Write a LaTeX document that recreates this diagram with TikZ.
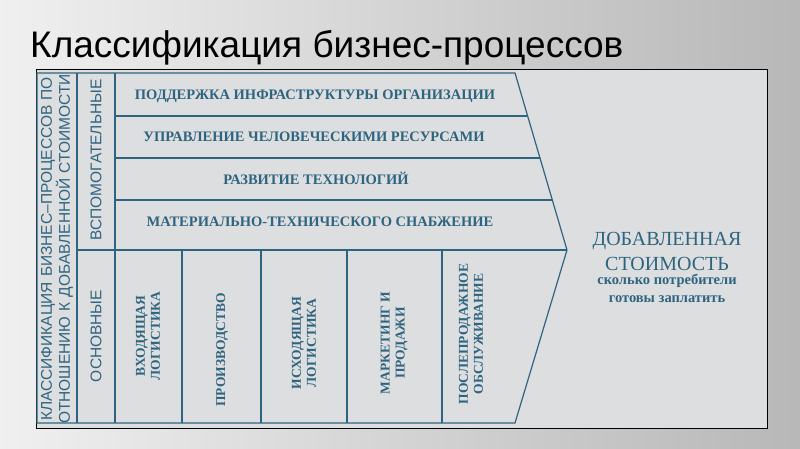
\documentclass[tikz,border=0pt]{standalone}
\usepackage{fontspec}
\setmainfont{Liberation Serif}
\setsansfont{Liberation Sans}
\usepackage{tikz}
\usetikzlibrary{positioning}
\definecolor{ink}{HTML}{2F6480}
\definecolor{panel}{HTML}{DCDEDF}
\begin{document}
\begin{tikzpicture}[x=1pt,y=-1pt,
  rowtext/.style={font=\rmfamily\bfseries\fontsize{14.5}{15}\selectfont, text=ink},
  coltext/.style={font=\rmfamily\bfseries\fontsize{13.5}{15}\selectfont, text=ink, rotate=90, align=center},
  sidetext/.style={font=\sffamily\fontsize{15.5}{16.5}\selectfont, text=ink, rotate=90, align=center},
  frame/.style={draw=ink, line width=1.2pt}]
\useasboundingbox (0,0) rectangle (800,449);
\shade[left color=black!6, right color=black!28] (0,0) rectangle (800,449);
\node[anchor=base west, font=\sffamily\fontsize{37}{40}\selectfont, inner sep=0pt] (title) at (30,58) {Классификация бизнес-процессов};
\draw[fill=panel, line width=0.8pt] (36,69) rectangle (767,428);
%outline of the chain
\draw[frame] (37,73) -- (515,73) -- (567,250) -- (515,423) -- (37,423) -- cycle;
\draw[frame] (77,73) -- (77,423)
             (115,73) -- (115,423)
             (115,116) -- (528,116)
             (115,158) -- (540,158)
             (115,200) -- (552,200)
             (77,250) -- (567,250);
\foreach \x in {182,261,347,442}
  \draw[frame] (\x,250) -- (\x,423);
%support rows
\node[rowtext] (infra) at (315,96) {ПОДДЕРЖКА ИНФРАСТРУКТУРЫ ОРГАНИЗАЦИИ};
\node[rowtext] (hr) at (314,137) {УПРАВЛЕНИЕ ЧЕЛОВЕЧЕСКИМИ РЕСУРСАМИ};
\node[rowtext] (tech) at (316,178) {РАЗВИТИЕ ТЕХНОЛОГИЙ};
\node[rowtext] (supply) at (320,222) {МАТЕРИАЛЬНО-ТЕХНИЧЕСКОГО СНАБЖЕНИЕ};
%primary columns
\node[coltext] (inlog) at (148,336) {ВХОДЯЩАЯ\\ЛОГИСТИКА};
\node[coltext] (prod) at (222,350) {ПРОИЗВОДСТВО};
\node[coltext] (outlog) at (304,343) {ИСХОДЯЩАЯ\\ЛОГИСТИКА};
\node[coltext] (market) at (394,343) {МАРКЕТИНГ И\\ПРОДАЖИ};
\node[coltext] (service) at (471,334) {ПОСЛЕПРОДАЖНОЕ\\ОБСЛУЖИВАНИЕ};
%left labels
\node[sidetext, text width=360pt] (class) at (57,249) {КЛАССИФИКАЦИЯ БИЗНЕС--ПРОЦЕССОВ ПО ОТНОШЕНИЮ К ДОБАВЛЕННОЙ СТОИМОСТИ};
\node[sidetext] (aux) at (96,160) {ВСПОМОГАТЕЛЬНЫЕ};
\node[sidetext] (main) at (96,336) {ОСНОВНЫЕ};
%value
\node[font=\rmfamily\fontsize{20}{25}\selectfont, text=ink, align=center] (value) at (667,251) {ДОБАВЛЕННАЯ\\СТОИМОСТЬ};
\node[font=\rmfamily\bfseries\fontsize{14.5}{18}\selectfont, text=ink, align=center, below=-3pt of value] (pay) {сколько потребители\\готовы заплатить};
\end{tikzpicture}
\end{document}
